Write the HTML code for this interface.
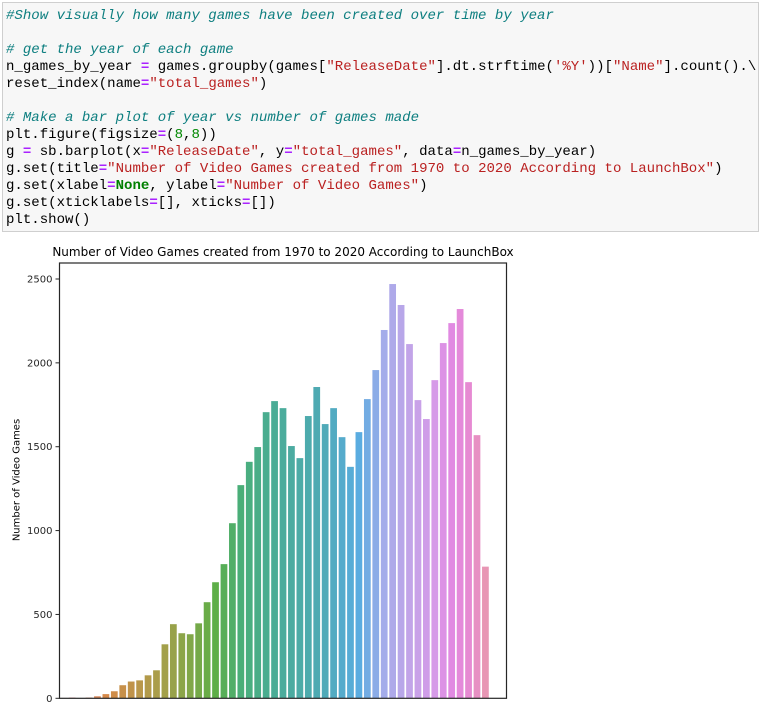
<!DOCTYPE html>
<html><head><meta charset="utf-8"><style>
body{margin:0;width:761px;height:709px;background:#fff;overflow:hidden;position:relative;font-family:"DejaVu Sans","Liberation Sans",sans-serif}
#code{position:absolute;left:2px;top:2px;width:757px;height:230px;background:#f7f7f7;border:1px solid #cfcfcf;box-sizing:border-box}
#code pre{margin:0;padding:5px 0 0 3px;font-family:"Liberation Mono",monospace;font-size:14.05px;line-height:17px;color:#000}
.c{color:#0e7f80;font-style:italic}.s{color:#ba2121}.o{color:#aa22ff;font-weight:bold}.n{color:#080}.k{color:#008000;font-weight:bold}
svg{position:absolute;left:0;top:0}
</style></head><body>
<div id="code"><pre><span class="c">#Show visually how many games have been created over time by year</span>

<span class="c"># get the year of each game</span>
n_games_by_year <span class="o">=</span> games.groupby(games[<span class="s">"ReleaseDate"</span>].dt.strftime(<span class="s">'%Y'</span>))[<span class="s">"Name"</span>].count().\
reset_index(name<span class="o">=</span><span class="s">"total_games"</span>)

<span class="c"># Make a bar plot of year vs number of games made</span>
plt.figure(figsize<span class="o">=</span>(<span class="n">8</span>,<span class="n">8</span>))
g <span class="o">=</span> sb.barplot(x<span class="o">=</span><span class="s">"ReleaseDate"</span>, y<span class="o">=</span><span class="s">"total_games"</span>, data<span class="o">=</span>n_games_by_year)
g.set(title<span class="o">=</span><span class="s">"Number of Video Games created from 1970 to 2020 According to LaunchBox"</span>)
g.set(xlabel<span class="o">=</span><span class="k">None</span>, ylabel<span class="o">=</span><span class="s">"Number of Video Games"</span>)
g.set(xticklabels<span class="o">=</span>[], xticks<span class="o">=</span>[])
plt.show()</pre></div>
<svg id="chart" width="761" height="709"></svg>
<script>
const values=[2,4,0,4,12,25,42,78,100,107,137,167,322,442,388,382,447,573,692,800,1044,1271,1410,1498,1706,1772,1730,1504,1432,1683,1856,1635,1730,1557,1380,1587,1784,1957,2196,2470,2345,2112,1778,1665,1897,2118,2237,2321,1885,1569,785,0,0];
const yTicks=[0,500,1000,1500,2000,2500];
const anchors=[[0,[232,131,154]],[5,[214,138,74]],[12,[163,160,74]],[18,[94,174,72]],[21,[74,174,120]],[25,[74,172,150]],[31,[79,170,184]],[35,[90,172,224]],[38,[164,172,234]],[41,[194,164,232]],[44,[214,154,232]],[46,[225,138,226]],[48,[230,138,210]],[50,[232,150,180]],[52,[232,155,170]]];
const NS='http://www.w3.org/2000/svg';
const svg=document.getElementById('chart');
const L=59.5,R=506.5,T=263,B=698.3;
const n=values.length,bw=(R-L)/n;
const y=v=>B-v*(B-279)/2500;
const x=i=>L+i*bw;
function col(i){for(let k=0;k<anchors.length-1;k++){const[a,ca]=anchors[k],[b,cb]=anchors[k+1];if(i>=a&&i<=b){const t=(i-a)/(b-a);return 'rgb('+ca.map((c,j)=>Math.round(c+(cb[j]-c)*t)).join(',')+')';}}return 'rgb(232,155,170)';}
function mk(t,a){const e=document.createElementNS(NS,t);for(const k in a)e.setAttribute(k,a[k]);svg.appendChild(e);return e;}
values.forEach((v,i)=>{const r=mk('rect',{x:x(i)+bw*0.1,y:y(v),width:bw*0.8,height:B-y(v),fill:col(i)});

});
yTicks.forEach(t=>{const l=mk('line',{x1:L-4,x2:L,y1:y(t),y2:y(t),stroke:'#262626','stroke-width':1});


const tx=mk('text',{x:L-7,y:y(t)+3.5,'text-anchor':'end','font-size':'10px',fill:'#262626'});tx.textContent=t;

});
const fr=mk('rect',{x:L,y:T,width:R-L,height:B-T,fill:'none',stroke:'#262626','stroke-width':1.2});


const ti=mk('text',{x:(L+R)/2,y:256,'text-anchor':'middle','font-size':'12px',fill:'#000'});ti.textContent='Number of Video Games created from 1970 to 2020 According to LaunchBox';


const yl=mk('text',{x:0,y:0,'text-anchor':'middle','font-size':'10px',fill:'#000',transform:'translate(19.5,480) rotate(-90)'});yl.textContent='Number of Video Games';


</script>
</body></html>
